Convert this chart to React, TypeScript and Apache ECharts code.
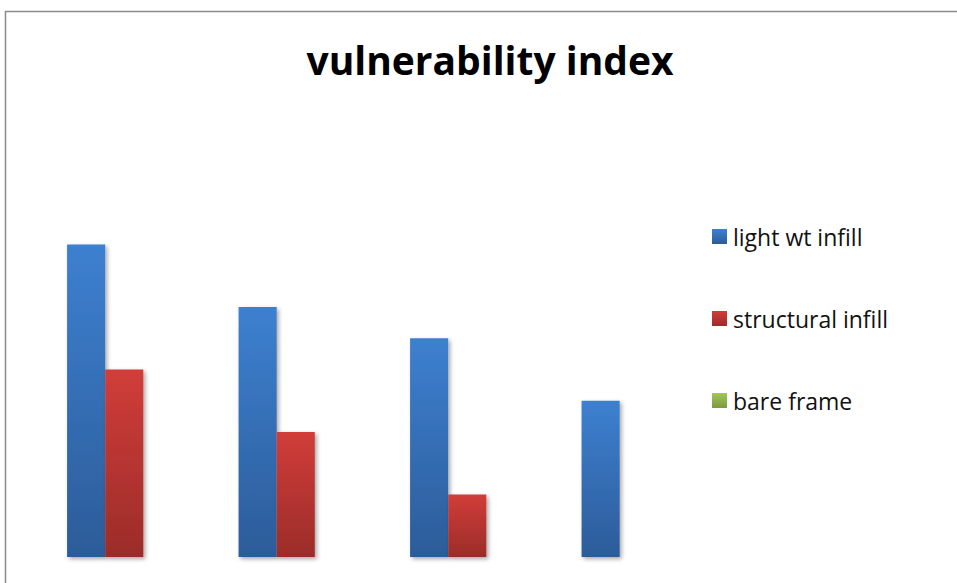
import React, { useEffect, useRef } from "react";
import * as echarts from "echarts";

// Chart data
const categories = ["1", "2", "3", "4"];
const lightWtInfill = [10, 8, 7, 5];
const structuralInfill = [6, 4, 2, 0];
const bareFrame = [0, 0, 0, 0];
const seriesNames = ["light wt infill", "structural infill", "bare frame"];

const grad = (top: string, bottom: string) =>
  new echarts.graphic.LinearGradient(0, 0, 0, 1, [
    { offset: 0, color: top },
    { offset: 1, color: bottom },
  ]);

export default function App() {
  const ref = useRef<HTMLDivElement>(null);

  useEffect(() => {
    if (!ref.current) return;
    const chart = echarts.init(ref.current, null, { renderer: "svg" });
    const barStyle = (top: string, bottom: string) => ({
      color: grad(top, bottom),
      shadowBlur: 4,
      shadowOffsetX: 2,
      shadowOffsetY: 2,
      shadowColor: "rgba(0,0,0,0.35)",
    });
    const colors = [
      ["#3d80d0", "#2c5c99"],
      ["#d13d39", "#9b2c29"],
      ["#a2c65c", "#7d9a3c"],
    ];
    const data = [lightWtInfill, structuralInfill, bareFrame];
    chart.setOption({
      animation: false,
      backgroundColor: "#ffffff",
      title: {
        text: "vulnerability index",
        left: 485,
        top: 35,
        textAlign: "center",
        textStyle: {
          fontFamily: "Open Sans",
          fontWeight: "bold",
          fontSize: 39,
          color: "#000000",
        },
      },
      legend: {
        orient: "vertical",
        left: 707,
        top: 220,
        itemWidth: 15,
        itemHeight: 15,
        itemGap: 59,
        icon: "rect",
        textStyle: {
          fontFamily: "Open Sans",
          fontSize: 23,
          color: "#111111",
          padding: [0, 0, 0, 1],
        },
        data: seriesNames,
      },
      grid: {
        left: 38.5,
        top: 119.5,
        width: 686,
        height: 437.5,
        containLabel: false,
      },
      xAxis: {
        type: "category",
        data: categories,
        show: false,
      },
      yAxis: {
        type: "value",
        min: 0,
        max: 14,
        show: false,
      },
      series: seriesNames.map((name, i) => ({
        name,
        type: "bar",
        data: data[i],
        barGap: "0%",
        barCategoryGap: "33.33%",
        itemStyle: barStyle(colors[i][0], colors[i][1]),
      })),
      graphic: [
        {
          type: "rect",
          shape: { x: 5.5, y: 11.5, width: 1000, height: 1000 },
          style: { fill: "none", stroke: "#8a8a8a", lineWidth: 1.5 },
          silent: true,
        },
      ],
    });
    return () => chart.dispose();
  }, []);

  return (
    <div
      ref={ref}
      style={{ position: "fixed", left: 0, top: 0, width: 957, height: 583 }}
    />
  );
}
